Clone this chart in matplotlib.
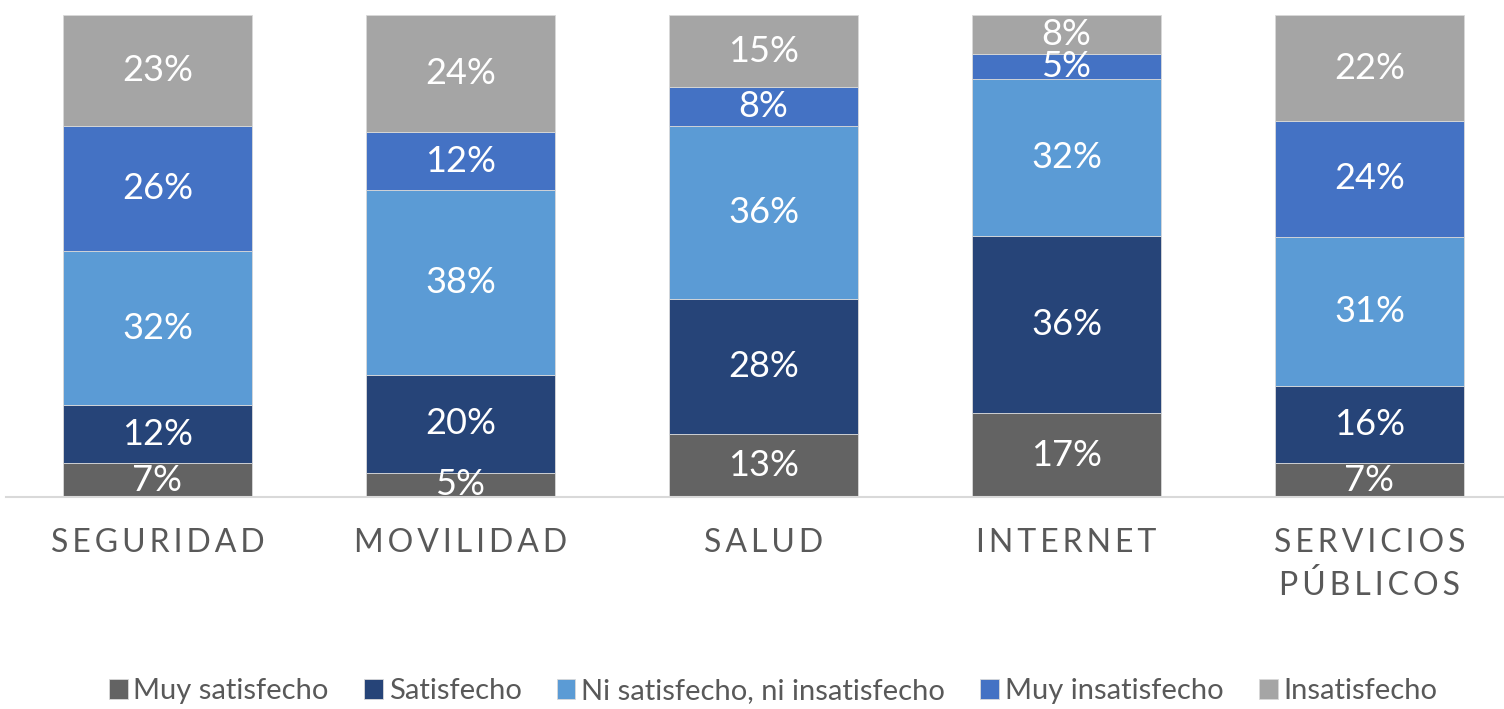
import matplotlib.pyplot as plt
import numpy as np

# Datos de satisfacción por servicio (%)
categorias = ["SEGURIDAD", "MOVILIDAD", "SALUD", "INTERNET", "SERVICIOS\nPÚBLICOS"]
series = ["Muy satisfecho", "Satisfecho", "Ni satisfecho, ni insatisfecho",
          "Muy insatisfecho", "Insatisfecho"]
muy_satisfecho = [7, 5, 13, 17, 7]
satisfecho = [12, 20, 28, 36, 16]
ni_ni = [32, 38, 36, 32, 31]
muy_insatisfecho = [26, 12, 8, 5, 24]
insatisfecho = [23, 24, 15, 8, 22]

colores = ["#636363", "#264478", "#5B9BD5", "#4472C4", "#A5A5A5"]

plt.rcParams['font.family'] = ['Lato', 'DejaVu Sans']

valores = np.array([muy_satisfecho, satisfecho, ni_ni, muy_insatisfecho, insatisfecho], dtype=float)
totales = valores.sum(axis=0)
proporciones = valores / totales * 100  # barras apiladas al 100%

fig = plt.figure(figsize=(15.04, 7.09), dpi=100)
ax = fig.add_axes([6 / 1504, 212 / 709, 1515 / 1504, 482 / 709])

x = np.arange(len(categorias))
base = np.zeros(len(categorias))
for i, nombre in enumerate(series):
    barras = ax.bar(x, proporciones[i], 0.625, bottom=base, color=colores[i],
                    label=nombre, edgecolor="#D9D9D9", linewidth=0.6)
    for j, b in enumerate(barras):
        ax.text(b.get_x() + b.get_width() / 2, base[j] + proporciones[i][j] / 2,
                f"{int(valores[i][j])}%", ha="center", va="center",
                color="white", fontsize=26)
    base += proporciones[i]

ax.set_xlim(-0.5, 4.5)
ax.set_ylim(0, 100)
ax.set_yticks([])
ax.set_xticks(x)
etiquetas = ["\n".join("\u2009".join(p) for p in c.split("\n")) for c in categorias]
ax.set_xticklabels(etiquetas, fontsize=23, color="#595959", linespacing=1.5)
ax.tick_params(axis="x", length=0, pad=22)
for s in ["top", "right", "left"]:
    ax.spines[s].set_visible(False)
ax.spines["bottom"].set_color("#D9D9D9")
ax.spines["bottom"].set_linewidth(1.5)

fig.legend(loc="lower center", bbox_to_anchor=(0.514, -0.03), ncol=5, frameon=False,
           fontsize=21, handlelength=0.65, handleheight=0.65, handletextpad=0.2,
           columnspacing=1.2, labelcolor="#595959")

plt.savefig("out.png", dpi=100)
